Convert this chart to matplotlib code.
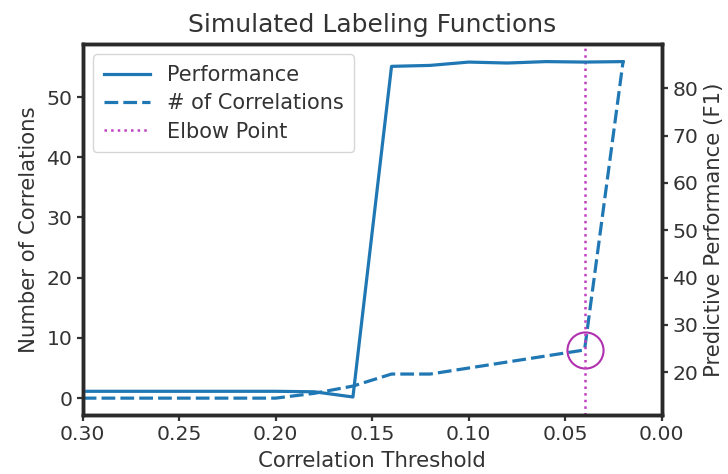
import matplotlib
matplotlib.use('Agg')
import matplotlib.pyplot as plt

# correlation thresholds (x), swept from high to low
thresholds = [0.30, 0.28, 0.26, 0.24, 0.22, 0.20, 0.18, 0.16, 0.14, 0.12, 0.10, 0.08, 0.06, 0.04, 0.02]
# number of learned correlations (left axis)
n_correlations = [0, 0, 0, 0, 0, 0, 0.8, 2, 4, 4, 5, 6, 7, 8, 56]
# predictive performance F1 (right axis)
performance = [16.0, 16.0, 16.0, 16.0, 16.0, 16.0, 15.9, 14.8, 84.6, 84.8, 85.5, 85.3, 85.6, 85.5, 85.6]
elbow_x = 0.04
elbow_y = 8

blue = '#1f77b4'
text_col = '#333333'

plt.rcParams['font.family'] = 'DejaVu Sans'
plt.rcParams['text.color'] = text_col
plt.rcParams['axes.labelcolor'] = text_col
plt.rcParams['xtick.color'] = text_col
plt.rcParams['ytick.color'] = text_col

fig, ax = plt.subplots(figsize=(7.28, 4.74), dpi=100)
fig.subplots_adjust(left=0.1136, right=0.909, bottom=0.1245, top=0.907)
ax2 = ax.twinx()

l_corr, = ax.plot(thresholds, n_correlations, '--', color=blue, lw=2.3, dashes=(4.3, 1.6),
                  label='# of Correlations')
ax.plot([elbow_x], [elbow_y], 'o', ms=26, mfc='none', mec='#b030b0', mew=1.5)
l_elbow = ax.axvline(elbow_x, color='#c040c0', ls=':', lw=1.8, label='Elbow Point')
l_perf, = ax2.plot(thresholds, performance, '-', color=blue, lw=2.3, label='Performance')

ax.set_xlim(0.30, 0.00)
ax.set_yticks([0, 10, 20, 30, 40, 50])
ax2.set_yticks([20, 30, 40, 50, 60, 70, 80])
ax.set_ylim(-2.8, 58.8)
ax2.set_ylim(11.0, 89.3)

for a in (ax, ax2):
    for s in a.spines.values():
        s.set_linewidth(2.5)
        s.set_color('#2a2a2a')
    a.tick_params(width=1.6, length=4.5, labelsize=14.7, pad=3)

ax.set_xlabel('Correlation Threshold', fontsize=15.3, labelpad=5)
ax.set_ylabel('Number of Correlations', fontsize=15.3, labelpad=5)
ax2.set_ylabel('Predictive Performance (F1)', fontsize=15.3, labelpad=4)
ax.set_title('Simulated Labeling Functions', fontsize=18, pad=9)

ax.legend(handles=[l_perf, l_corr, l_elbow], loc='upper left', fontsize=15,
          handlelength=2.25, borderpad=0.5, labelspacing=0.4)

fig.savefig('out.png', dpi=100)
